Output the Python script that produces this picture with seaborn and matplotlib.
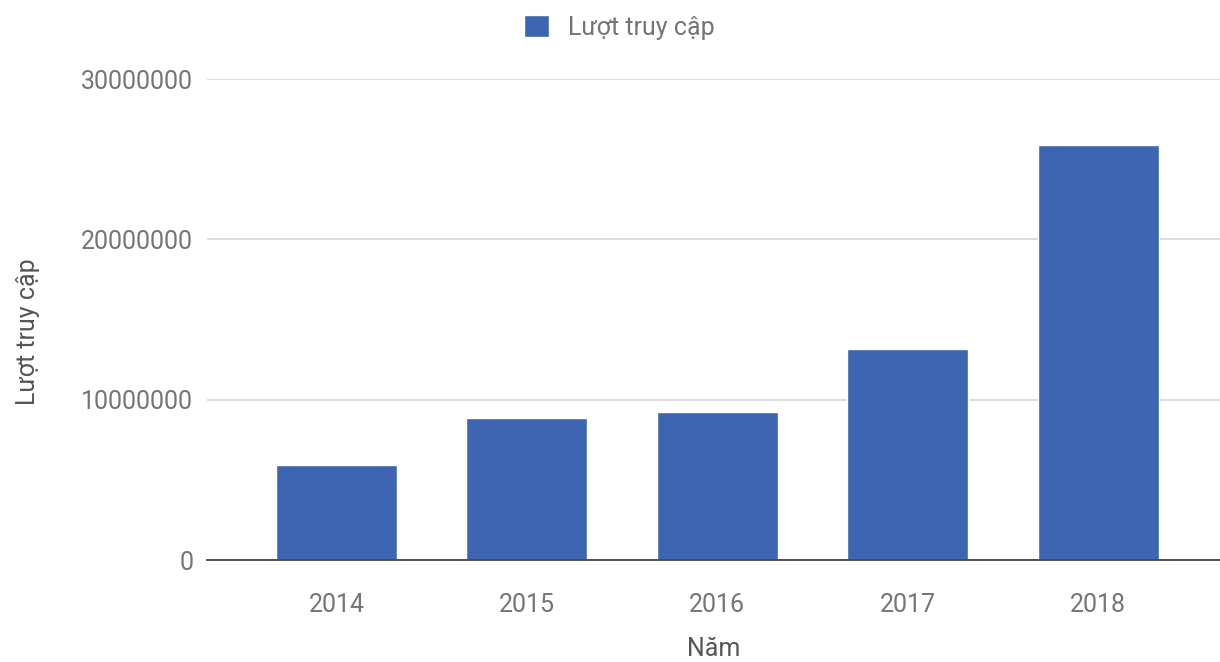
import matplotlib
matplotlib.use("Agg")
import matplotlib.pyplot as plt
import seaborn as sns
import pandas as pd

years = ["2014", "2015", "2016", "2017", "2018"]
visits = [5930000, 8860000, 9230000, 13160000, 25900000]
y_ticks = [0, 10000000, 20000000, 30000000]
series_name = "Lượt truy cập"

sns.set_theme(style="white")
plt.rcParams['font.family'] = ['Roboto', 'DejaVu Sans']

df = pd.DataFrame({"year": years, "visits": visits})

fig = plt.figure(figsize=(12.2, 6.62), dpi=100)
ax = fig.add_axes([0.1697, 0.154, 0.8303, 0.7266])

sns.barplot(data=df, x="year", y="visits", color="#3e65b1", saturation=1,
            width=0.636, label=series_name, ax=ax)

ax.set_ylim(0, 30000000)
ax.set_xlim(-0.68, 4.64)
ax.set_yticks(y_ticks)
ax.set_yticklabels([str(v) for v in y_ticks])
ax.grid(axis="y", color="#d6d6d6", linewidth=1.2)
ax.set_axisbelow(True)
for s in ["top", "right", "left"]:
    ax.spines[s].set_visible(False)
ax.spines["bottom"].set_color("#444444")
ax.spines["bottom"].set_linewidth(1.3)
ax.tick_params(axis="both", length=0, labelsize=18, labelcolor="#757575")
ax.tick_params(axis="y", pad=10)
ax.tick_params(axis="x", pad=24)

ax.set_xlabel("Năm", fontsize=18, color="#555555", labelpad=14)
ax.set_ylabel(series_name, fontsize=18, color="#555555")
ax.yaxis.set_label_coords(-0.165, 0.474)

ax.legend(loc="center", bbox_to_anchor=(0.508, 0.959), bbox_transform=fig.transFigure,
          frameon=False, fontsize=18, handlelength=1.0, handleheight=1.0,
          handletextpad=0.76, labelcolor="#757575")

fig.savefig("out.png", dpi=100)
